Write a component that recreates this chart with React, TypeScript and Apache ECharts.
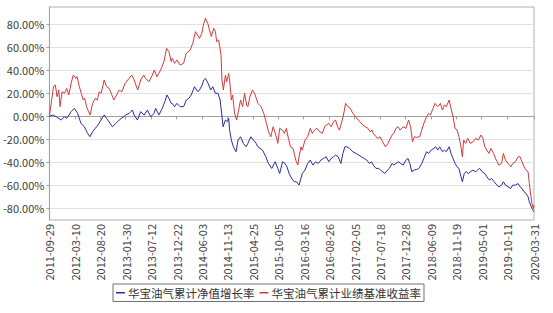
import React, { useEffect, useRef } from 'react';
import * as echarts from 'echarts';

const START_DATE = '2011-09-29';
const tickLabels = [
  '2011-09-29', '2012-03-10', '2012-08-20', '2013-01-30', '2013-07-12',
  '2013-12-22', '2014-06-03', '2014-11-13', '2015-04-25', '2015-10-05',
  '2016-03-16', '2016-08-26', '2017-02-05', '2017-07-18', '2017-12-28',
  '2018-06-09', '2018-11-19', '2019-05-01', '2019-10-11', '2020-03-31',
];
const yTickValues = [-80, -60, -40, -20, 0, 20, 40, 60, 80];
const navName = '华宝油气累计净值增长率';
const benchName = '华宝油气累计业绩基准收益率';

// [days since START_DATE, percent]
const navData: [number, number][] = [
  [0, 0], [21, 1.2], [43, -0.3], [75, -3.2], [96, -0.3], [111, -1.7], [139, 4.1], [160, 7.0],
  [181, 2.6], [202, -6.1], [224, -9.0], [245, -14.8], [260, -17.7], [277, -13.3], [294, -10.4],
  [311, -7.5], [330, -3.2], [351, 1.2], [366, -1.7], [404, -9.0], [426, -6.1], [447, -3.2],
  [489, 1.2], [511, 2.6], [532, 5.5], [543, 1.2], [564, -3.2], [585, 4.1], [607, 1.2],
  [628, 5.5], [649, -0.3], [670, 2.6], [681, 7.0], [702, 1.2], [723, 7.0], [740, 12.8],
  [753, 18.6], [766, 15.7], [781, 11.3], [787, 11.3], [802, 8.4], [817, 11.3], [838, 8.4],
  [860, 8.4], [877, 14.2], [894, 15.7], [909, 18.6], [930, 25.8], [951, 21.4], [962, 22.9],
  [979, 27.2], [989, 31.6], [1000, 33.0], [1017, 28.7], [1034, 22.9], [1047, 25.8],
  [1064, 20.0], [1081, 20.0], [1094, 14.2], [1104, 2.6], [1113, -9.0], [1128, -3.2],
  [1140, -4.6], [1149, -1.7], [1155, -11.9], [1166, -20.6], [1179, -26.4], [1196, -30.7],
  [1209, -20.6], [1225, -17.7], [1243, -23.5], [1260, -26.4], [1272, -23.5], [1291, -17.7],
  [1306, -20.6], [1319, -22.0], [1336, -26.4], [1366, -29.3], [1387, -35.1], [1404, -40.9],
  [1425, -45.2], [1447, -39.4], [1464, -45.2], [1476, -49.6], [1494, -39.4], [1510, -40.9],
  [1523, -43.8], [1536, -49.6], [1553, -53.9], [1570, -56.8], [1583, -56.8], [1600, -59.7],
  [1621, -49.6], [1638, -46.7], [1655, -40.9], [1672, -38.0], [1689, -42.3], [1706, -39.4],
  [1723, -40.9], [1740, -38.0], [1757, -36.5], [1774, -35.1], [1791, -39.4], [1806, -36.5],
  [1821, -35.1], [1834, -33.6], [1851, -35.1], [1868, -40.9], [1881, -32.2], [1894, -26.4],
  [1906, -26.4], [1923, -27.8], [1945, -30.7], [1966, -32.2], [1983, -33.6], [2000, -35.1],
  [2017, -36.5], [2034, -38.0], [2051, -40.9], [2064, -39.4], [2076, -42.3], [2093, -45.2],
  [2110, -45.2], [2123, -46.7], [2136, -48.1], [2149, -49.6], [2166, -46.7], [2179, -45.2],
  [2196, -40.9], [2208, -42.3], [2221, -40.9], [2238, -39.4], [2251, -40.9], [2268, -42.3],
  [2285, -38.0], [2298, -36.5], [2310, -40.9], [2323, -48.1], [2336, -46.7], [2353, -46.1],
  [2366, -45.5], [2374, -43.8], [2387, -40.9], [2400, -36.5], [2417, -30.7], [2430, -32.2],
  [2447, -29.3], [2464, -27.8], [2476, -26.4], [2489, -29.3], [2502, -26.4], [2519, -30.7],
  [2532, -29.3], [2544, -30.7], [2562, -26.4], [2574, -32.2], [2587, -36.5], [2600, -40.9],
  [2613, -43.8], [2625, -45.2], [2638, -52.5], [2647, -56.8], [2659, -49.6], [2672, -48.1],
  [2685, -49.6], [2698, -48.1], [2715, -46.7], [2732, -48.1], [2744, -46.7], [2757, -45.2],
  [2774, -48.1], [2791, -49.6], [2804, -52.5], [2821, -55.4], [2834, -53.9], [2851, -56.8],
  [2868, -59.7], [2881, -61.2], [2898, -59.7], [2910, -56.8], [2923, -59.7], [2940, -61.2],
  [2957, -62.6], [2970, -59.7], [2987, -59.7], [3004, -58.3], [3017, -61.2], [3029, -62.6],
  [3042, -65.5], [3055, -67.0], [3068, -69.9], [3076, -74.2], [3085, -77.1], [3093, -80.0],
  [3102, -82.0], [3106, -82.9],
];

const benchData: [number, number][] = [
  [0, 0], [26, 25.8], [38, 27.2], [49, 17.1], [60, 22.9], [68, 8.4], [81, 21.4], [96, 20.0],
  [111, 24.3], [124, 18.6], [139, 28.7], [153, 35.9], [170, 33.0], [177, 34.5], [192, 25.8],
  [204, 20.0], [217, 14.2], [226, 15.7], [238, 8.4], [251, 4.1], [260, 1.2], [277, 11.3],
  [294, 15.7], [307, 14.2], [319, 21.4], [332, 20.0], [351, 31.6], [366, 25.8], [383, 24.3],
  [396, 20.0], [413, 14.2], [430, 18.6], [447, 22.9], [464, 21.4], [485, 28.7], [502, 31.6],
  [528, 35.9], [543, 31.6], [566, 22.9], [585, 31.6], [604, 35.9], [617, 33.0], [638, 30.1],
  [660, 35.9], [672, 40.3], [689, 34.5], [713, 40.3], [734, 47.5], [751, 59.1], [766, 56.2],
  [781, 47.5], [787, 50.4], [802, 46.1], [817, 49.0], [838, 44.6], [860, 46.1], [877, 54.8],
  [902, 57.7], [919, 63.5], [936, 73.6], [962, 67.8], [977, 72.2], [987, 79.4], [1000, 85.2],
  [1015, 80.9], [1026, 75.1], [1038, 69.3], [1053, 76.5], [1064, 73.6], [1072, 64.9],
  [1085, 66.4], [1100, 53.3], [1106, 31.6], [1115, 22.9], [1128, 35.9], [1136, 30.1],
  [1149, 37.4], [1157, 28.7], [1166, 14.2], [1174, 18.6], [1187, 2.6], [1200, -3.2],
  [1213, 5.5], [1225, 14.2], [1238, 8.4], [1251, 20.0], [1264, 9.9], [1272, 8.4], [1285, 17.1],
  [1302, 22.9], [1319, 18.6], [1336, 11.3], [1357, 8.4], [1374, 2.6], [1391, -6.1],
  [1404, -13.3], [1419, -17.7], [1434, -9.0], [1451, -16.2], [1464, -23.5], [1476, -10.4],
  [1494, -11.9], [1506, -14.8], [1519, -10.4], [1532, -19.1], [1545, -26.4], [1562, -27.8],
  [1574, -35.1], [1579, -38.0], [1592, -42.3], [1600, -35.1], [1613, -26.4], [1621, -29.3],
  [1638, -20.6], [1655, -17.7], [1672, -10.4], [1685, -14.8], [1698, -11.9], [1715, -10.4],
  [1732, -13.3], [1749, -14.8], [1764, -9.0], [1774, -7.5], [1791, -6.1], [1806, -9.0],
  [1821, -4.6], [1834, -3.2], [1847, -9.0], [1859, -11.9], [1877, -3.2], [1889, 4.1],
  [1898, 11.3], [1913, 8.4], [1928, 7.0], [1945, 2.6], [1962, -0.3], [1979, -3.2],
  [1991, -4.6], [2008, -7.5], [2025, -9.0], [2042, -10.4], [2055, -13.3], [2068, -11.9],
  [2076, -14.8], [2093, -17.7], [2106, -19.1], [2119, -17.7], [2136, -22.0], [2153, -26.4],
  [2170, -23.5], [2179, -20.6], [2196, -16.2], [2208, -14.8], [2221, -10.4], [2234, -9.0],
  [2247, -11.9], [2268, -9.0], [2285, -10.4], [2302, -3.2], [2315, -9.0], [2327, -22.0],
  [2340, -17.7], [2353, -18.3], [2366, -17.7], [2374, -17.7], [2383, -13.3], [2400, -6.1],
  [2417, -0.3], [2430, 2.6], [2442, 1.2], [2459, 7.0], [2472, 11.3], [2489, 8.4], [2506, 11.3],
  [2519, 5.5], [2532, 9.9], [2544, 8.4], [2562, 14.2], [2574, 7.0], [2587, -0.3], [2600, -10.4],
  [2613, -11.9], [2625, -17.7], [2638, -26.4], [2647, -35.1], [2655, -20.6], [2668, -23.5],
  [2681, -19.1], [2698, -23.5], [2715, -22.0], [2732, -19.1], [2749, -20.6], [2766, -16.2],
  [2778, -19.1], [2791, -26.4], [2804, -29.3], [2817, -32.2], [2830, -27.8], [2847, -32.2],
  [2864, -38.0], [2881, -42.3], [2898, -40.9], [2910, -32.2], [2923, -38.0], [2940, -40.9],
  [2957, -43.8], [2970, -40.9], [2987, -39.4], [3004, -35.1], [3017, -35.1], [3029, -39.4],
  [3042, -43.8], [3055, -46.7], [3068, -48.1], [3076, -58.3], [3085, -68.4], [3093, -75.7],
  [3102, -80.0], [3106, -77.1],
];

const DAY_MS = 86400000;
const startMs = Date.parse(START_DATE);
const toDay = (d: string) => Math.round((Date.parse(d) - startMs) / DAY_MS);
const toDate = (n: number) => new Date(startMs + Math.round(n) * DAY_MS).toISOString().slice(0, 10);

const FONT = '"Noto Sans CJK SC", "DejaVu Sans", sans-serif';

export default function App() {
  const ref = useRef<HTMLDivElement>(null);
  useEffect(() => {
    if (!ref.current) return;
    const chart = echarts.init(ref.current, undefined, { renderer: 'svg' });
    const tickDays = tickLabels.map(toDay);
    chart.setOption({
      animation: false,
      backgroundColor: '#ffffff',
      textStyle: { fontFamily: FONT },
      grid: {
        left: 47, right: 19, top: 7, bottom: 93,
        show: true, borderColor: '#b0b0b0', borderWidth: 1, backgroundColor: 'transparent',
      },
      legend: {
        left: 113, top: 284,
        orient: 'horizontal',
        borderColor: '#707070', borderWidth: 1,
        padding: [3, 3, 3, 3],
        itemGap: 5,
        itemWidth: 9, itemHeight: 1.5,
        icon: 'rect',
        textStyle: { fontSize: 11.5, color: '#333', fontFamily: FONT, padding: [0, 0, 0, -2] },
        data: [navName, benchName],
      },
      xAxis: {
        type: 'value',
        min: 0,
        max: tickDays[tickDays.length - 1],
        axisLine: { show: true, lineStyle: { color: '#a0a0a0' } },
        axisTick: { show: true, length: 3, customValues: tickDays, lineStyle: { color: '#a0a0a0' } },
        axisLabel: {
          customValues: tickDays,
          rotate: 90,
          fontSize: 11,
          color: '#404040',
          margin: 4,
          formatter: (v: number) => toDate(v),
        },
        splitLine: { show: false },
      },
      yAxis: {
        type: 'value',
        min: -90,
        max: 95,
        axisLine: { show: true, lineStyle: { color: '#a0a0a0' } },
        axisTick: { show: true, length: 3, customValues: yTickValues, lineStyle: { color: '#a0a0a0' } },
        axisLabel: {
          customValues: yTickValues,
          fontSize: 11,
          color: '#404040',
          margin: 5,
          formatter: (v: number) => v.toFixed(2) + '%',
        },
        splitLine: { show: true, lineStyle: { color: '#e2e2e2', width: 1 } },
      },
      series: [
        {
          name: navName,
          type: 'line',
          data: navData,
          showSymbol: false,
          symbol: 'none',
          lineStyle: { color: '#2b2b9e', width: 1 },
          itemStyle: { color: '#2b2b9e' },
        },
        {
          name: benchName,
          type: 'line',
          data: benchData,
          showSymbol: false,
          symbol: 'none',
          lineStyle: { color: '#d23a3a', width: 1 },
          itemStyle: { color: '#d23a3a' },
        },
      ],
    });
    return () => chart.dispose();
  }, []);
  return (
    <div
      ref={ref}
      style={{ position: 'fixed', left: 0, top: 0, width: 553, height: 313, background: '#fff' }}
    />
  );
}
